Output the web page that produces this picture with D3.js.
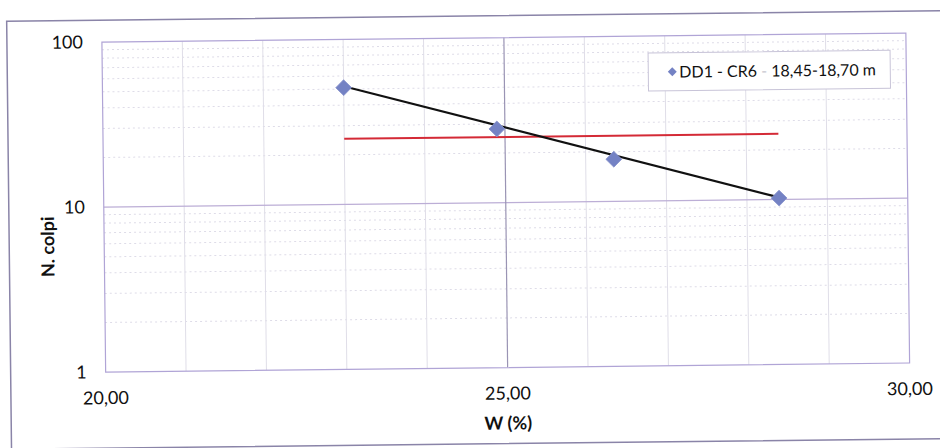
<!DOCTYPE html>
<html><head><meta charset="utf-8">
<script src="https://cdn.jsdelivr.net/npm/d3@7"></script>
<style>body{margin:0;background:#fff}svg{display:block}</style>
</head><body>
<script>
// data
const W = [23.0, 24.9, 26.35, 28.4];
const N = [51, 28, 18, 10.2];
const trendW = [23.0, 28.4];
const trendN = [52, 10.3];
const refW = [23.0, 28.4];
const refN = [25, 25];
const xTicks = [20, 25, 30];
const xTickLabels = ["20,00", "25,00", "30,00"];
const yTicks = [1, 10, 100];
const yTickLabels = ["1", "10", "100"];
const legendLabel = ["DD1 - CR6 ", "-", " 18,45-18,70 m"];

const width = 940, height = 448;
const L = 104, R = 908, T = 38, B = 368;
const svg = d3.select("body").append("svg").attr("width", width).attr("height", height);
const g = svg.append("g").attr("transform", "rotate(-0.65,470,224)");

const x = d3.scaleLinear().domain([20, 30]).range([L, R]);
const y = d3.scaleLog().domain([1, 100]).range([B, T]);

// outer border
g.append("rect").attr("x", 9).attr("y", 16).attr("width", 960).attr("height", 428)
  .attr("fill", "none").attr("stroke", "#8a84a8").attr("stroke-width", 1.5);

// minor horizontal gridlines
const minorY = [];
[1, 10].forEach(d => { for (let k = 2; k <= 9; k++) minorY.push(d * k); });
g.selectAll(".mh").data(minorY).enter().append("line")
  .attr("x1", L).attr("x2", R).attr("y1", d => y(d)).attr("y2", d => y(d))
  .attr("stroke", "#dedce8").attr("stroke-width", 1).attr("stroke-dasharray", "2,3");
// minor vertical gridlines
const minorX = d3.range(21, 30).filter(d => d !== 25);
g.selectAll(".mv").data(minorX).enter().append("line")
  .attr("y1", T).attr("y2", B).attr("x1", d => x(d)).attr("x2", d => x(d))
  .attr("stroke", "#e0dee8").attr("stroke-width", 1);
// major gridlines
g.append("line").attr("x1", L).attr("x2", R).attr("y1", y(10)).attr("y2", y(10))
  .attr("stroke", "#bcaed6").attr("stroke-width", 1.2);
g.append("line").attr("y1", T).attr("y2", B).attr("x1", x(25)).attr("x2", x(25))
  .attr("stroke", "#9a94b4").attr("stroke-width", 1.2);

// plot border
g.append("rect").attr("x", L).attr("y", T).attr("width", R - L).attr("height", B - T)
  .attr("fill", "none").attr("stroke", "#b0a4d6").attr("stroke-width", 1.2);

// axes labels
const fontF = "Lato, 'Open Sans', sans-serif";
g.selectAll(".xt").data(xTicks).enter().append("text")
  .attr("x", d => x(d)).attr("y", B + 32).attr("text-anchor", "middle")
  .attr("font-family", fontF).attr("font-size", 18).attr("fill", "#111")
  .text((d, i) => xTickLabels[i]);
g.selectAll(".yt").data(yTicks).enter().append("text")
  .attr("x", L - 19).attr("y", d => y(d) + 6).attr("text-anchor", "end")
  .attr("font-family", fontF).attr("font-size", 18).attr("fill", "#111")
  .text((d, i) => yTickLabels[i]);

g.append("text").attr("x", x(25)).attr("y", B + 62).attr("text-anchor", "middle")
  .attr("font-family", fontF).attr("font-size", 18).attr("font-weight", "bold").attr("fill", "#111")
  .text("W (%)");
g.append("text").attr("transform", "translate(54,242) rotate(-90)").attr("text-anchor", "middle")
  .attr("font-family", fontF).attr("font-size", 18).attr("font-weight", "bold").attr("fill", "#111")
  .text("N. colpi");

// reference red line
const line = d3.line().x(d => x(d[0])).y(d => y(d[1]));
g.append("path").datum(d3.zip(refW, refN)).attr("d", line)
  .attr("fill", "none").attr("stroke", "#d42a36").attr("stroke-width", 2);
// trend line
g.append("path").datum(d3.zip(trendW, trendN)).attr("d", line)
  .attr("fill", "none").attr("stroke", "#111").attr("stroke-width", 2.2);

// points (square rotated 45deg = diamond)
const sym = d3.symbol().type(d3.symbolSquare).size(125);
g.selectAll(".pt").data(d3.zip(W, N)).enter().append("path")
  .attr("d", sym).attr("transform", d => `translate(${x(d[0])},${y(d[1])}) rotate(45)`)
  .attr("fill", "#7482c4").attr("stroke", "#8a94cc").attr("stroke-width", 0.8);

// legend
const lg = g.append("g").attr("transform", "translate(650,55)");
lg.append("rect").attr("width", 242).attr("height", 38).attr("fill", "#fff")
  .attr("stroke", "#c8c4d8").attr("stroke-width", 1);
lg.append("path").attr("d", d3.symbol().type(d3.symbolSquare).size(40)())
  .attr("transform", "translate(24,19) rotate(45)").attr("fill", "#7482c4");
const lt = lg.append("text").attr("x", 31).attr("y", 25)
  .attr("font-family", fontF).attr("font-size", 16).attr("fill", "#111");
lt.append("tspan").text(legendLabel[0]);
lt.append("tspan").attr("fill", "#c8c8d0").text(legendLabel[1]);
lt.append("tspan").text(legendLabel[2]);
</script>
</body></html>
